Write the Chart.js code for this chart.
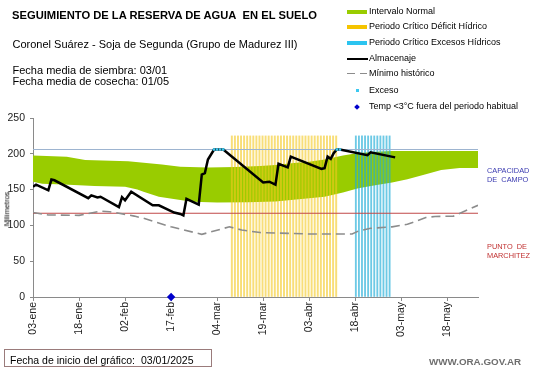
<!DOCTYPE html>
<html>
<head>
<meta charset="utf-8">
<script src="https://cdn.jsdelivr.net/npm/chart.js@4.4.1/dist/chart.umd.min.js"></script>
<style>
html,body{margin:0;padding:0;background:#fff;}
#wrap{position:relative;width:541px;height:368px;overflow:hidden;font-family:"Liberation Sans",Arial,sans-serif;background:#fff;}
canvas{position:absolute;left:0;top:0;}
.t{position:absolute;white-space:nowrap;color:#000;line-height:1;}
.lg{position:absolute;left:369px;font-size:9px;line-height:1;white-space:nowrap;color:#000;}
.sw{position:absolute;}
</style>
</head>
<body>
<div id="wrap">
<canvas id="c" width="541" height="368"></canvas>

<div class="t" style="left:12px;top:9.5px;font-size:11.2px;font-weight:bold;">SEGUIMIENTO DE LA RESERVA DE AGUA&nbsp; EN EL SUELO</div>
<div class="t" style="left:12.5px;top:39px;font-size:11px;">Coronel Suárez - Soja de Segunda (Grupo de Madurez III)</div>
<div class="t" style="left:12.5px;top:65px;font-size:11px;">Fecha media de siembra: 03/01</div>
<div class="t" style="left:12.5px;top:75.5px;font-size:11px;">Fecha media de cosecha: 01/05</div>

<!-- legend -->
<div class="sw" style="left:347px;top:10px;width:20px;height:4px;background:#99CC00;"></div>
<div class="lg" style="top:7.4px;">Intervalo Normal</div>
<div class="sw" style="left:347px;top:25px;width:20px;height:4px;background:#F5C400;"></div>
<div class="lg" style="top:22.3px;">Periodo Crítico Déficit Hídrico</div>
<div class="sw" style="left:347px;top:41px;width:20px;height:4px;background:#2BC4F0;"></div>
<div class="lg" style="top:38.3px;">Periodo Crítico Excesos Hídricos</div>
<div class="sw" style="left:347px;top:57.7px;width:21px;height:2px;background:#000;"></div>
<div class="lg" style="top:54.3px;">Almacenaje</div>
<div class="sw" style="left:347px;top:72.5px;width:8px;height:1.6px;background:#8C8C8C;"></div>
<div class="sw" style="left:360px;top:72.5px;width:7px;height:1.6px;background:#8C8C8C;"></div>
<div class="lg" style="top:69px;">Mínimo histórico</div>
<div class="sw" style="left:356px;top:89px;width:2.5px;height:2.5px;background:#3CC8F0;"></div>
<div class="lg" style="top:85.6px;">Exceso</div>
<div class="sw" style="left:355px;top:104.5px;width:4px;height:4px;background:#0000CC;transform:rotate(45deg);"></div>
<div class="lg" style="top:102.3px;">Temp &lt;3°C fuera del periodo habitual</div>

<!-- axis title and side labels -->
<div class="t" style="left:7px;top:209px;font-size:7.5px;transform:translate(-50%,-50%) rotate(-90deg);">Milímetros</div>
<div class="t" style="left:487px;top:167px;font-size:8px;color:#3A3AB0;transform:scaleX(0.92);transform-origin:left;">CAPACIDAD</div>
<div class="t" style="left:487px;top:175.5px;font-size:8px;color:#3A3AB0;transform:scaleX(0.92);transform-origin:left;">DE&nbsp; CAMPO</div>
<div class="t" style="left:487px;top:243px;font-size:8px;color:#C03030;transform:scaleX(0.92);transform-origin:left;">PUNTO&nbsp; DE</div>
<div class="t" style="left:487px;top:252px;font-size:8px;color:#C03030;transform:scaleX(0.92);transform-origin:left;">MARCHITEZ</div>

<!-- footer -->
<div style="position:absolute;left:4px;top:349px;width:208px;height:18px;border:1px solid #9A7B7B;box-sizing:border-box;"></div>
<div class="t" style="left:10px;top:354.5px;font-size:10.5px;">Fecha de inicio del gráfico:</div>
<div class="t" style="left:141px;top:354.5px;font-size:10.5px;">03/01/2025</div>
<div class="t" style="left:429px;top:356.5px;font-size:9.8px;font-weight:bold;color:#6E6E6E;">WWW.ORA.GOV.AR</div>
</div>

<script>
// ---- data (day 0 = 03-ene) ----
const tickLabels = ['03-ene','18-ene','02-feb','17-feb','04-mar','19-mar','03-abr','18-abr','03-may','18-may'];
const tickStep = 15;
const lastDay = 145;

const normalTopDays    = [0, 11, 17, 31, 42, 48, 57, 66, 74, 79, 85, 90, 95, 101, 106, 112, 117, 145];
const normalTopValues  = [197.5, 196, 191.5, 189.5, 185, 182, 181, 181.5, 183, 184.5, 187, 189, 192, 197.5, 201, 203, 204, 204];

const normalLowDays    = [0, 3, 10, 20, 30, 34, 36, 41, 48, 52, 60, 70, 79, 84, 90, 95, 101, 106, 112, 117, 122, 128, 133, 139, 145];
const normalLowValues  = [161, 158, 157, 155, 154, 150, 147, 140, 135.5, 133, 132, 132.5, 133.5, 135.5, 138, 140, 146, 152, 156.5, 160, 164.5, 171.5, 177.5, 180, 180];

const almDays   = [0, 1, 5, 6, 7, 18, 19, 21, 22, 28, 29, 30, 32, 39, 41, 46, 48, 49, 50, 54, 55, 56, 57, 59, 62, 75, 77, 79, 80, 83, 84, 94, 95, 96, 97, 98, 99, 100, 109, 110, 118];
const almValues = [154, 157, 149, 164, 163, 138, 142, 139, 140, 125.5, 139.5, 135, 147, 128, 128, 118, 116, 114, 137, 129, 171, 173, 192, 206, 206, 160, 161, 157, 186, 181, 196, 179, 180, 196, 193, 201, 206, 206, 198, 202, 195];

const minHistDays   = [0, 5, 15, 22, 25, 28, 33, 36, 45, 48, 55, 64, 68, 74, 90, 104, 106, 110, 117, 122, 128, 131, 137, 145];
const minHistValues = [118, 114.6, 114, 120, 119, 117, 113, 110, 98, 95, 87.5, 98, 93.5, 90, 88, 88, 92, 96, 98, 101.5, 111, 112.5, 113, 128];

const excesoDays   = [59, 60, 61, 62, 99, 100];
const excesoValues = [206, 206, 206, 206, 206, 206];

const frioDays   = [45];
const frioValues = [0];

const capacidadCampo = 206;
const puntoMarchitez = 117;

const deficitPeriod = [65, 99];   // first and last day
const excesoPeriod  = [105, 116];
const periodTop = 225;

// ---- helpers ----
const pts = (xs, ys) => xs.map((d, i) => ({x: d, y: ys[i]}));
const range = (a, b) => Array.from({length: b - a + 1}, (_, i) => a + i);
const flat = (v) => [{x: 0, y: v}, {x: lastDay, y: v}];
const periodPts = (p) => range(p[0], p[1]).map(d => ({x: d, y: periodTop}));

Chart.defaults.font.family = '"Liberation Sans", Arial, sans-serif';
Chart.defaults.color = '#222';

new Chart(document.getElementById('c'), {
  type: 'line',
  data: {
    datasets: [
      { label: 'low', data: pts(normalLowDays, normalLowValues), borderWidth: 0, pointRadius: 0, fill: false, order: 20, borderColor: 'rgba(0,0,0,0)' },
      { label: 'Intervalo Normal', data: pts(normalTopDays, normalTopValues), borderWidth: 0, pointRadius: 0, fill: '-1', backgroundColor: '#99CC00', borderColor: 'rgba(0,0,0,0)', order: 19 },
      { type: 'bar', label: 'Periodo Crítico Déficit Hídrico', data: periodPts(deficitPeriod), backgroundColor: 'rgba(244,200,30,0.6)', barThickness: 1.3, order: 10 },
      { type: 'bar', label: 'Periodo Crítico Excesos Hídricos', data: periodPts(excesoPeriod), backgroundColor: 'rgba(30,172,215,0.65)', barThickness: 1.2, order: 10 },
      { label: 'cc', data: flat(capacidadCampo), borderColor: '#9DB4D0', borderWidth: 1.2, pointRadius: 0, order: 8 },
      { label: 'pm', data: flat(puntoMarchitez), borderColor: '#C04848', borderWidth: 1.2, pointRadius: 0, order: 8 },
      { label: 'Mínimo histórico', data: pts(minHistDays, minHistValues), borderColor: '#8C8C8C', borderWidth: 1.6, borderDash: [9, 5], pointRadius: 0, order: 6 },
      { label: 'Almacenaje', data: pts(almDays, almValues), borderColor: '#000', borderWidth: 2.5, pointRadius: 0, order: 4 },
      { label: 'Exceso', data: pts(excesoDays, excesoValues), showLine: false, pointStyle: 'rect', pointRadius: 1.8, backgroundColor: '#3CC8F0', borderWidth: 0, order: 2 },
      { label: 'Temp', data: pts(frioDays, frioValues), showLine: false, pointStyle: 'rectRot', pointRadius: 4.2, backgroundColor: '#0000CC', borderColor: '#0000CC', borderWidth: 0, clip: false, order: 1 }
    ]
  },
  options: {
    responsive: false,
    animation: false,
    devicePixelRatio: 1,
    layout: { padding: { left: 0, top: 118, right: 63, bottom: 21 } },
    plugins: { legend: { display: false }, tooltip: { enabled: false } },
    elements: { line: { tension: 0 } },
    scales: {
      x: {
        type: 'linear', min: 0, max: lastDay, offset: false,
        afterBuildTicks: (s) => { s.ticks = tickLabels.map((_, i) => ({value: i * tickStep})); },
        afterFit: (s) => { s.height = 50; },
        ticks: { autoSkip: false, minRotation: 90, maxRotation: 90, padding: 1, font: { size: 10.5 }, color: '#222',
                 callback: (v) => tickLabels[Math.round(v / tickStep)] },
        grid: { display: true, drawOnChartArea: false, drawTicks: true, tickLength: 4, color: '#8a8a8a', offset: false },
        border: { display: true, color: '#8a8a8a', width: 1 }
      },
      y: {
        min: 0, max: 250,
        afterFit: (s) => { s.width = 33; },
        ticks: { stepSize: 50, padding: 5, font: { size: 10.5 }, color: '#222' },
        grid: { display: true, drawOnChartArea: false, drawTicks: true, tickLength: 3, color: '#8a8a8a' },
        border: { display: true, color: '#8a8a8a', width: 1 }
      }
    }
  }
});
</script>
</body>
</html>
